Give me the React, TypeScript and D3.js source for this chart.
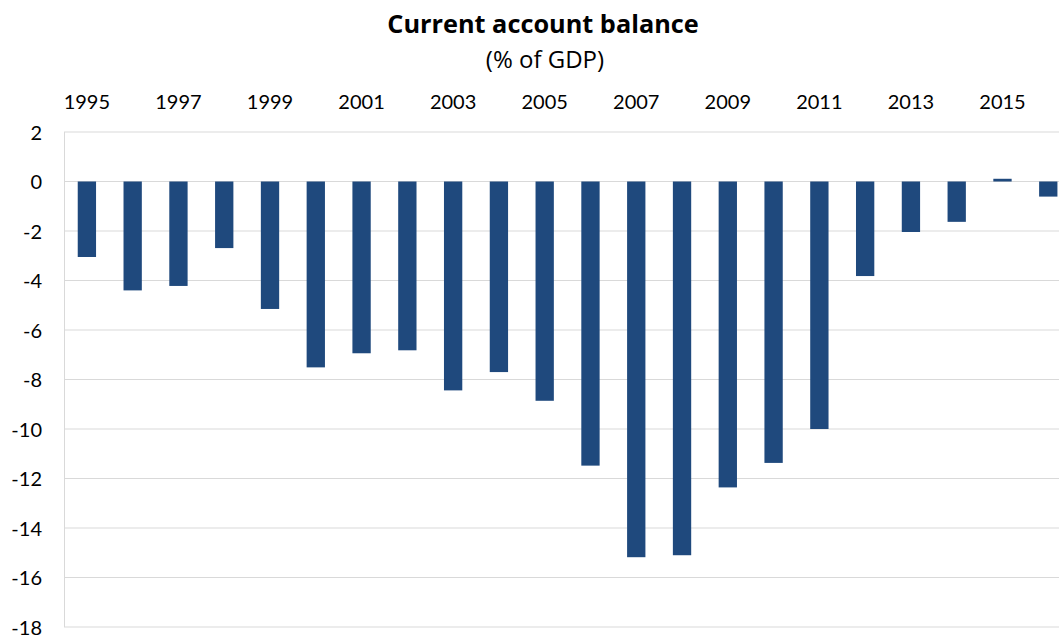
import React from "react";
import * as d3 from "d3";

const years: number[] = [1995, 1996, 1997, 1998, 1999, 2000, 2001, 2002, 2003, 2004, 2005, 2006, 2007, 2008, 2009, 2010, 2011, 2012, 2013, 2014, 2015, 2016];
const balance: number[] = [-3.05, -4.4, -4.22, -2.69, -5.15, -7.51, -6.94, -6.82, -8.44, -7.7, -8.86, -11.48, -15.18, -15.1, -12.36, -11.37, -10.0, -3.82, -2.04, -1.63, 0.11, -0.61];
const yTicks: number[] = [2, 0, -2, -4, -6, -8, -10, -12, -14, -16, -18];
const xTickYears: number[] = [1995, 1997, 1999, 2001, 2003, 2005, 2007, 2009, 2011, 2013, 2015];
const title = "Current account balance";
const subtitle = "(% of GDP)";

const W = 1059;
const H = 638;
const FONT = "Lato, 'Open Sans', sans-serif";
const TITLE_FONT = "'Open Sans', Lato, sans-serif";

export default function App() {
  const left = 64;
  const step = 45.78;
  const x = d3
    .scaleBand<number>()
    .domain(years)
    .range([left, left + step * years.length])
    .paddingInner(0.6)
    .paddingOuter(0.3);
  const y = d3.scaleLinear().domain([-18, 2]).range([627, 132]);

  return (
    <svg
      width={W}
      height={H}
      style={{ position: "absolute", left: 0, top: 0, background: "#fff" }}
      fontFamily={FONT}
    >
      <rect x={0} y={0} width={W} height={H} fill="#fff" />
      <text x={543} y={33} textAnchor="middle" fontSize={25.3} fontWeight="bold" fill="#000" fontFamily={TITLE_FONT}>
        {title}
      </text>
      <text x={545} y={68} textAnchor="middle" fontSize={24} fill="#000" fontFamily={TITLE_FONT}>
        {subtitle}
      </text>
      {yTicks.map((t) => (
        <g key={t}>
          <line x1={left} x2={W} y1={y(t)} y2={y(t)} stroke="#d9d9d9" strokeWidth={1} />
          <text x={42} y={y(t) + 7.5} textAnchor="end" fontSize={20} fill="#000">
            {t}
          </text>
        </g>
      ))}
      <line x1={left + 0.5} x2={left + 0.5} y1={y(2)} y2={y(-18)} stroke="#d9d9d9" strokeWidth={1} />
      {xTickYears.map((yr) => (
        <text
          key={yr}
          x={(x(yr) as number) + x.bandwidth() / 2}
          y={109}
          textAnchor="middle"
          fontSize={20}
          fill="#000"
        >
          {yr}
        </text>
      ))}
      {years.map((yr, i) => {
        const v = balance[i];
        const y0 = y(0);
        const y1 = y(v);
        return (
          <rect
            key={yr}
            x={x(yr)}
            y={Math.min(y0, y1)}
            width={x.bandwidth()}
            height={Math.abs(y1 - y0)}
            fill="#1f497d"
          />
        );
      })}
    </svg>
  );
}
